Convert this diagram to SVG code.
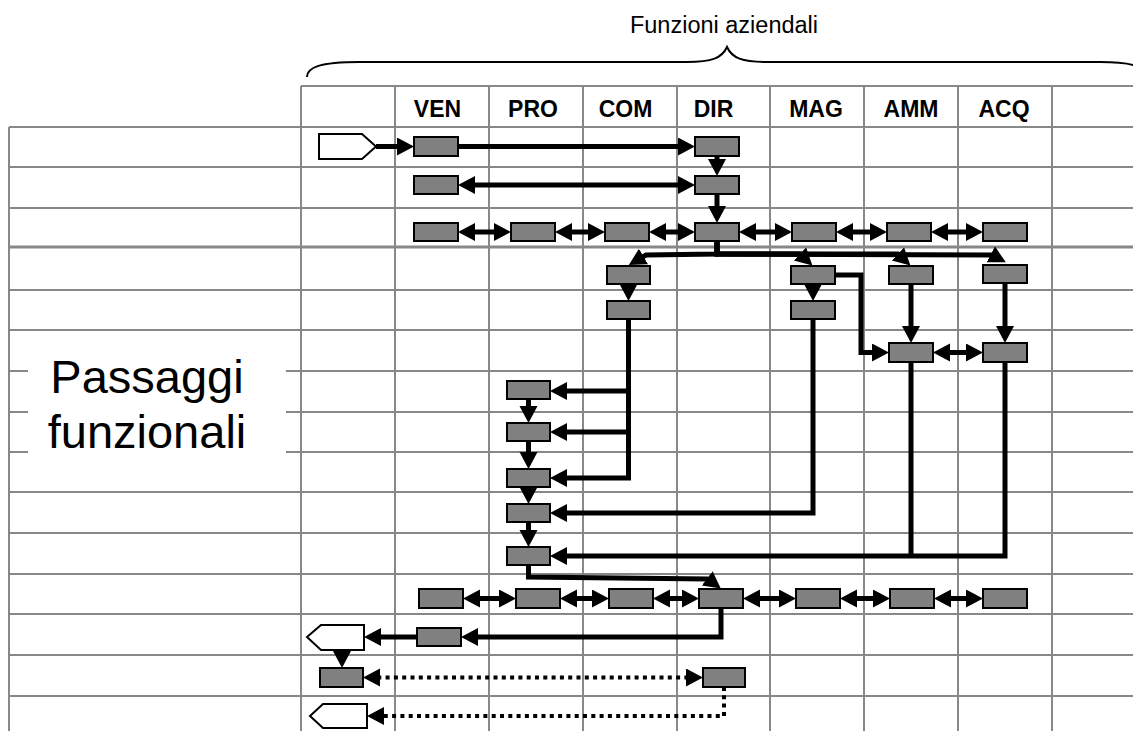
<svg xmlns="http://www.w3.org/2000/svg" width="1133" height="731" viewBox="0 0 1133 731">
<style>
.g{stroke:#888;stroke-width:2;fill:none}
.bx{fill:#808080;stroke:#000;stroke-width:2}
.pt{fill:#fff;stroke:#000;stroke-width:2}
.c{stroke:#000;stroke-width:5;fill:none;marker-end:url(#ah)}
.cb{stroke:#000;stroke-width:5;fill:none;marker-start:url(#ah);marker-end:url(#ah)}
.ln{stroke:#000;stroke-width:5;fill:none}
.dot{stroke-dasharray:4 4.3;stroke-width:4}
.hd{font-family:"Liberation Sans",Arial,sans-serif;font-weight:bold;font-size:23px;text-anchor:middle}
.tx{font-family:"Liberation Sans",Arial,sans-serif;text-anchor:middle}
</style>
<defs>
<marker id="ah" markerUnits="userSpaceOnUse" markerWidth="18" markerHeight="19" refX="11" refY="9" orient="auto-start-reverse"><path d="M0,0 L17,9 L0,18 Z" fill="#000"/></marker>
</defs>
<rect width="1133" height="731" fill="#fff"/>
<g id="title">
<text class="tx" x="724" y="33" font-size="23.5">Funzioni aziendali</text>
<path d="M307,77 C307,68 318,62 360,62 L687,62 C712,62 722,58 727,47 C732,58 742,62 767,62 L1100,62 C1135,62 1148,68 1148,77" fill="none" stroke="#000" stroke-width="2"/>
</g>
<g id="grid" class="g">
<path d="M301,86 H1133"/>
<path d="M9,127 H1133 M9,167 H1133 M9,208 H1133 M9,290 H1133 M9,330 H1133 M9,371 H1133 M9,412 H1133 M9,452 H1133 M9,492 H1133 M9,533 H1133 M9,574 H1133 M9,614 H1133 M9,655 H1133 M9,696 H1133"/>
<path d="M9,247 H1133" stroke-width="3"/>
<path d="M9,127 V731 M301,86 V731 M395,86 V731 M489,86 V731 M583,86 V731 M677,86 V731 M770,86 V731 M864,86 V731 M958,86 V731 M1052,86 V731"/>
</g>
<g id="side-label">
<rect x="28" y="345" width="258" height="122" fill="#fff"/>
<text class="tx" x="147" y="393" font-size="47">Passaggi</text>
<text class="tx" x="147" y="448" font-size="47">funzionali</text>
</g>
<g id="headers">
<text class="hd" x="437.5" y="117">VEN</text>
<text class="hd" x="533" y="117">PRO</text>
<text class="hd" x="625.5" y="117">COM</text>
<text class="hd" x="713.5" y="117">DIR</text>
<text class="hd" x="816" y="117">MAG</text>
<text class="hd" x="911" y="117">AMM</text>
<text class="hd" x="1004" y="117">ACQ</text>
</g>
<g id="connectors">
<path class="c" d="M376,146.5 H408"/>
<path class="c" d="M458,146.5 H689"/>
<path class="c" d="M717,156 V170"/>
<path class="cb" d="M464,185 H689"/>
<path class="c" d="M717,194 V217"/>
<path class="cb" d="M464,232 H505"/>
<path class="cb" d="M561,232 H599"/>
<path class="cb" d="M655,232 H689"/>
<path class="cb" d="M745,232 H786"/>
<path class="cb" d="M842,232 H881"/>
<path class="cb" d="M937,232 H977"/>
<path class="c" d="M717,241 V254 L646,255 L634,262"/>
<path class="c" d="M717,241 V254 L800,254 L808,261.5"/>
<path class="c" d="M717,241 V254 L898,254 L906,261.5"/>
<path class="c" d="M717,241 V254 L992,255 L1000.5,259.5"/>
<path class="c" d="M628.5,284 V295"/>
<path class="c" d="M813,284 V295"/>
<path class="c" d="M835,275 H861 V352.5 H883"/>
<path class="c" d="M911,284 V337"/>
<path class="c" d="M1005,283 V337"/>
<path class="cb" d="M939,352.5 H977"/>
<path class="c" d="M628.5,319 V478 H556"/>
<path class="c" d="M628.5,391 H556"/>
<path class="c" d="M628.5,432 H556"/>
<path class="c" d="M813,319 V513 H556"/>
<path class="ln" d="M911,362 V556"/>
<path class="c" d="M1005,362 V556 H556"/>
<path class="c" d="M528.5,399 V417"/>
<path class="c" d="M528.5,441 V463"/>
<path class="c" d="M528.5,487 V498"/>
<path class="c" d="M528.5,522 V541"/>
<path class="c" d="M528.5,565 V577 L708,579 L716,585"/>
<path class="cb" d="M469,598.5 H510"/>
<path class="cb" d="M566,598.5 H603"/>
<path class="cb" d="M659,598.5 H693"/>
<path class="cb" d="M749,598.5 H790"/>
<path class="cb" d="M846,598.5 H884"/>
<path class="cb" d="M940,598.5 H977"/>
<path class="c" d="M721,608 V637 H467"/>
<path class="c" d="M417,637 H370"/>
<path class="c" d="M342,650 V662"/>
<path class="cb dot" d="M369,677.5 H697"/>
<path class="c dot" d="M724,687 V716 H373"/>
</g>
<g id="start"><polygon class="pt" points="319,134 362,134 376,146.5 362,159 319,159"/></g>
<g id="end1"><polygon class="pt" points="307,637 321,625 364,625 364,650 321,650"/></g>
<g id="end2"><polygon class="pt" points="310,716 323,704 367,704 367,728 323,728"/></g>
<g id="n1"><rect class="bx" x="414" y="137" width="44" height="19"/></g>
<g id="n2"><rect class="bx" x="695" y="137" width="44" height="19"/></g>
<g id="n3"><rect class="bx" x="414" y="176" width="44" height="18"/></g>
<g id="n4"><rect class="bx" x="695" y="176" width="44" height="18"/></g>
<g id="n5"><rect class="bx" x="414" y="223" width="44" height="18"/></g>
<g id="n6"><rect class="bx" x="511" y="223" width="44" height="18"/></g>
<g id="n7"><rect class="bx" x="605" y="223" width="44" height="18"/></g>
<g id="n8"><rect class="bx" x="695" y="223" width="44" height="18"/></g>
<g id="n9"><rect class="bx" x="792" y="223" width="44" height="18"/></g>
<g id="n10"><rect class="bx" x="887" y="223" width="44" height="18"/></g>
<g id="n11"><rect class="bx" x="983" y="223" width="44" height="18"/></g>
<g id="n12"><rect class="bx" x="607" y="266" width="43" height="18"/></g>
<g id="n13"><rect class="bx" x="791" y="266" width="44" height="18"/></g>
<g id="n14"><rect class="bx" x="889" y="266" width="44" height="18"/></g>
<g id="n15"><rect class="bx" x="983" y="265" width="44" height="18"/></g>
<g id="n16"><rect class="bx" x="607" y="301" width="43" height="18"/></g>
<g id="n17"><rect class="bx" x="791" y="301" width="44" height="18"/></g>
<g id="n18"><rect class="bx" x="889" y="343" width="44" height="19"/></g>
<g id="n19"><rect class="bx" x="983" y="343" width="44" height="19"/></g>
<g id="n20"><rect class="bx" x="507" y="381" width="43" height="18"/></g>
<g id="n21"><rect class="bx" x="507" y="423" width="43" height="18"/></g>
<g id="n22"><rect class="bx" x="507" y="469" width="43" height="18"/></g>
<g id="n23"><rect class="bx" x="507" y="504" width="43" height="18"/></g>
<g id="n24"><rect class="bx" x="507" y="547" width="43" height="18"/></g>
<g id="n25"><rect class="bx" x="419" y="589" width="44" height="19"/></g>
<g id="n26"><rect class="bx" x="516" y="589" width="44" height="19"/></g>
<g id="n27"><rect class="bx" x="609" y="589" width="44" height="19"/></g>
<g id="n28"><rect class="bx" x="699" y="589" width="44" height="19"/></g>
<g id="n29"><rect class="bx" x="796" y="589" width="44" height="19"/></g>
<g id="n30"><rect class="bx" x="890" y="589" width="44" height="19"/></g>
<g id="n31"><rect class="bx" x="983" y="589" width="44" height="19"/></g>
<g id="n32"><rect class="bx" x="417" y="628" width="44" height="18"/></g>
<g id="n33"><rect class="bx" x="320" y="668" width="43" height="19"/></g>
<g id="n34"><rect class="bx" x="703" y="668" width="42" height="19"/></g>
</svg>
